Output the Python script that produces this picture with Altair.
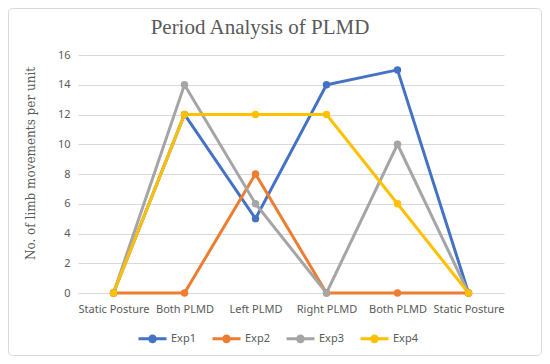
import altair as alt
import pandas as pd

categories = ["Static Posture", "Both PLMD", "Left PLMD", "Right PLMD", "Both PLMD", "Static Posture"]
series_names = ["Exp1", "Exp2", "Exp3", "Exp4"]
exp1 = [0, 12, 5, 14, 15, 0]
exp2 = [0, 0, 8, 0, 0, 0]
exp3 = [0, 14, 6, 0, 10, 0]
exp4 = [0, 12, 12, 12, 6, 0]
colors = ["#4472C4", "#ED7D31", "#A5A5A5", "#FFC000"]
y_ticks = [0, 2, 4, 6, 8, 10, 12, 14, 16]

rows = []
for name, vals in zip(series_names, [exp1, exp2, exp3, exp4]):
    for i, v in enumerate(vals):
        rows.append({"idx": i, "series": name, "value": v})
df = pd.DataFrame(rows)

label_expr = "[" + ",".join("'" + c + "'" for c in categories) + "][datum.value]"

x_enc = alt.X("idx:O", title=None,
              scale=alt.Scale(type="point", padding=0.5),
              axis=alt.Axis(labelExpr=label_expr, labelAngle=0, ticks=False,
                            domain=True, domainColor="#d9d9d9", labelPadding=10,
                            labelFont="Noto Sans", labelFontSize=11, labelColor="#595959",
                            grid=False))
y_enc = alt.Y("value:Q", title="No. of limb movements per unit",
              scale=alt.Scale(domain=[0, 16]),
              axis=alt.Axis(values=y_ticks, ticks=False, domain=False, grid=True,
                            gridColor="#d9d9d9", labelPadding=8,
                            labelFont="Noto Sans", labelFontSize=11, labelColor="#595959",
                            titleFont="DejaVu Serif", titleFontSize=12, titleFontWeight="normal",
                            titleColor="#595959", titleX=-48, titleY=108,
                            titleBaseline="middle"))

sym = "M-1,0L1,0M-0.2,0a0.2,0.2 0 1,0 0.4,0a0.2,0.2 0 1,0 -0.4,0"
color_enc = alt.Color("series:N", sort=series_names,
                      scale=alt.Scale(domain=series_names, range=colors),
                      legend=alt.Legend(title=None, orient="none", direction="horizontal",
                                        legendX=59, legendY=268, symbolType=sym,
                                        symbolSize=784, symbolStrokeWidth=3,
                                        labelFont="Noto Sans", labelFontSize=11,
                                        labelColor="#595959", labelOffset=3,
                                        columnPadding=10))

base = alt.Chart(df)
lines = base.mark_line(strokeWidth=3).encode(x=x_enc, y=y_enc, color=color_enc)
points = base.mark_point(filled=True, size=55, opacity=1).encode(x=x_enc, y=y_enc, color=color_enc)

one = pd.DataFrame({"t": ["Period Analysis of PLMD"]})
border = alt.Chart(one).mark_rect(fillOpacity=0, stroke="#d9d9d9", strokeWidth=1,
                                  cornerRadius=4).encode(
    x=alt.value(-69.5), x2=alt.value(426 + 37.5),
    y=alt.value(-46.5), y2=alt.value(238 + 62.5))

title = alt.Chart(one).mark_text(
    font="Liberation Serif", fontSize=21, color="#595959", baseline="middle", align="center"
).encode(text="t:N", x=alt.value(182), y=alt.value(-27))

chart = alt.layer(lines, points, border, title).properties(
    width=426, height=238,
    autosize=alt.AutoSizeParams(type="none"),
    padding={"left": 70, "top": 47, "right": 38, "bottom": 63},
).configure_view(stroke=None)

chart.save("out.html", embed_options={"renderer": "svg", "actions": False})
